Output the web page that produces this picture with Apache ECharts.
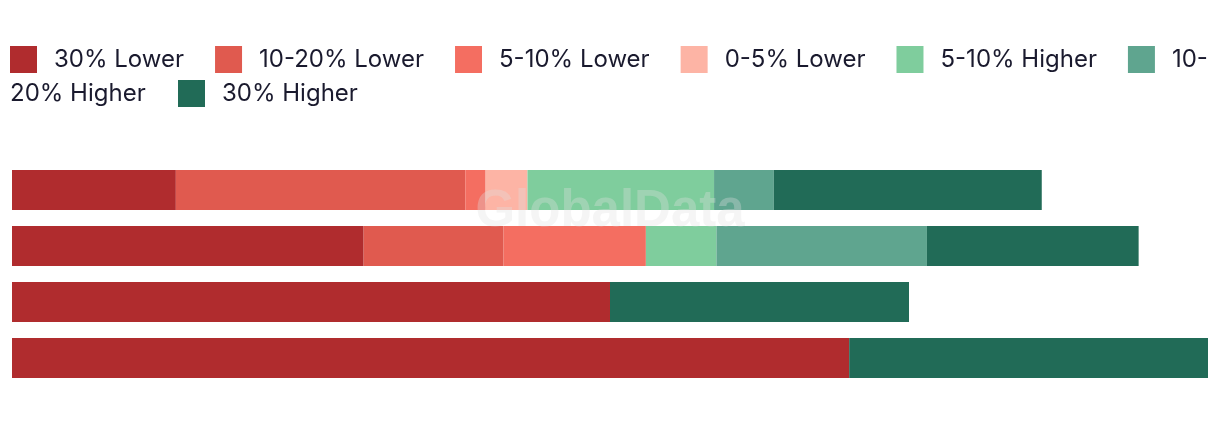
<!DOCTYPE html>
<html>
<head>
    <meta charset="utf-8">
    <title>Stacked bars</title>
    <script src="https://cdn.jsdelivr.net/npm/echarts@6/dist/echarts.min.js"></script>
</head>
<style>
    body
    {
        margin:0;
        background:#ffffff;
    }
    #main
    {
        width:1220px;
        height:422px;
    }
</style>
<body>

    <div id="main"></div>

    <script type="text/javascript">

        // rows from top to bottom (no labels shown in the picture)
        var categories = ['Row 1', 'Row 2', 'Row 3', 'Row 4'];

        var names = ['30% Lower', '10-20% Lower', '5-10% Lower', '0-5% Lower', '5-10% Higher', '10-20% Higher', '30% Higher'];
        var colors = ['#b02c2e', '#e05a4f', '#f46e61', '#fdb4a5', '#7fcd9d', '#5fa58f', '#216b57'];

        var lower30  = [13.7, 29.4, 50, 70];
        var lower10  = [24.2, 11.7, 0, 0];
        var lower5   = [1.7, 11.9, 0, 0];
        var lower0   = [3.5, 0, 0, 0];
        var higher5  = [15.6, 5.9, 0, 0];
        var higher10 = [5.0, 17.6, 0, 0];
        var higher30 = [22.4, 17.7, 25, 30];

        var values = [lower30, lower10, lower5, lower0, higher5, higher10, higher30];

        var myChart = echarts.init(document.getElementById('main'));

        var series = [];
        for (var i = 0; i < names.length; i++) {
            series.push({
                name: names[i],
                type: 'bar',
                stack: 'total',
                barWidth: 40,
                itemStyle: { color: colors[i] },
                emphasis: { disabled: true },
                data: values[i]
            });
        }

        var legendText = {
            fontFamily: 'Inter',
            fontSize: 24,
            color: '#1a1a2e',
            padding: [0, 0, 3, 12]
        };

        var option = {
            animation: false,
            legend: [
                {
                    left: 10,
                    top: 46,
                    padding: 0,
                    width: 1210,
                    itemWidth: 27,
                    itemHeight: 27,
                    itemGap: 31,
                    icon: 'rect',
                    selectedMode: false,
                    data: names.slice(0, 6),
                    formatter: function (name) {
                        // the last item breaks over two lines in the original
                        return name === '10-20% Higher' ? '10-' : name;
                    },
                    textStyle: legendText
                },
                {
                    left: 178,
                    top: 80,
                    padding: 0,
                    itemWidth: 27,
                    itemHeight: 27,
                    icon: 'rect',
                    selectedMode: false,
                    data: ['30% Higher'],
                    textStyle: legendText
                }
            ],
            graphic: [
                {
                    type: 'text',
                    left: 10,
                    top: 80,
                    style: {
                        text: '20% Higher',
                        font: '24px Inter',
                        fill: '#1a1a2e',
                        lineHeight: 27,
                        verticalAlign: 'middle'
                    }
                },
                {
                    type: 'text',
                    z: 100,
                    left: 'center',
                    top: 186,
                    style: {
                        text: 'GlobalData',
                        font: 'bold 51px "Liberation Sans"',
                        fill: 'rgba(225,225,225,0.33)'
                    }
                }
            ],
            grid: {
                left: 12,
                right: 12,
                top: 162,
                bottom: 36
            },
            xAxis: {
                type: 'value',
                min: 0,
                max: 100,
                show: false
            },
            yAxis: {
                type: 'category',
                inverse: true,
                data: categories,
                show: false
            },
            series: series
        };

        myChart.setOption(option);
    </script>

</body>
</html>
